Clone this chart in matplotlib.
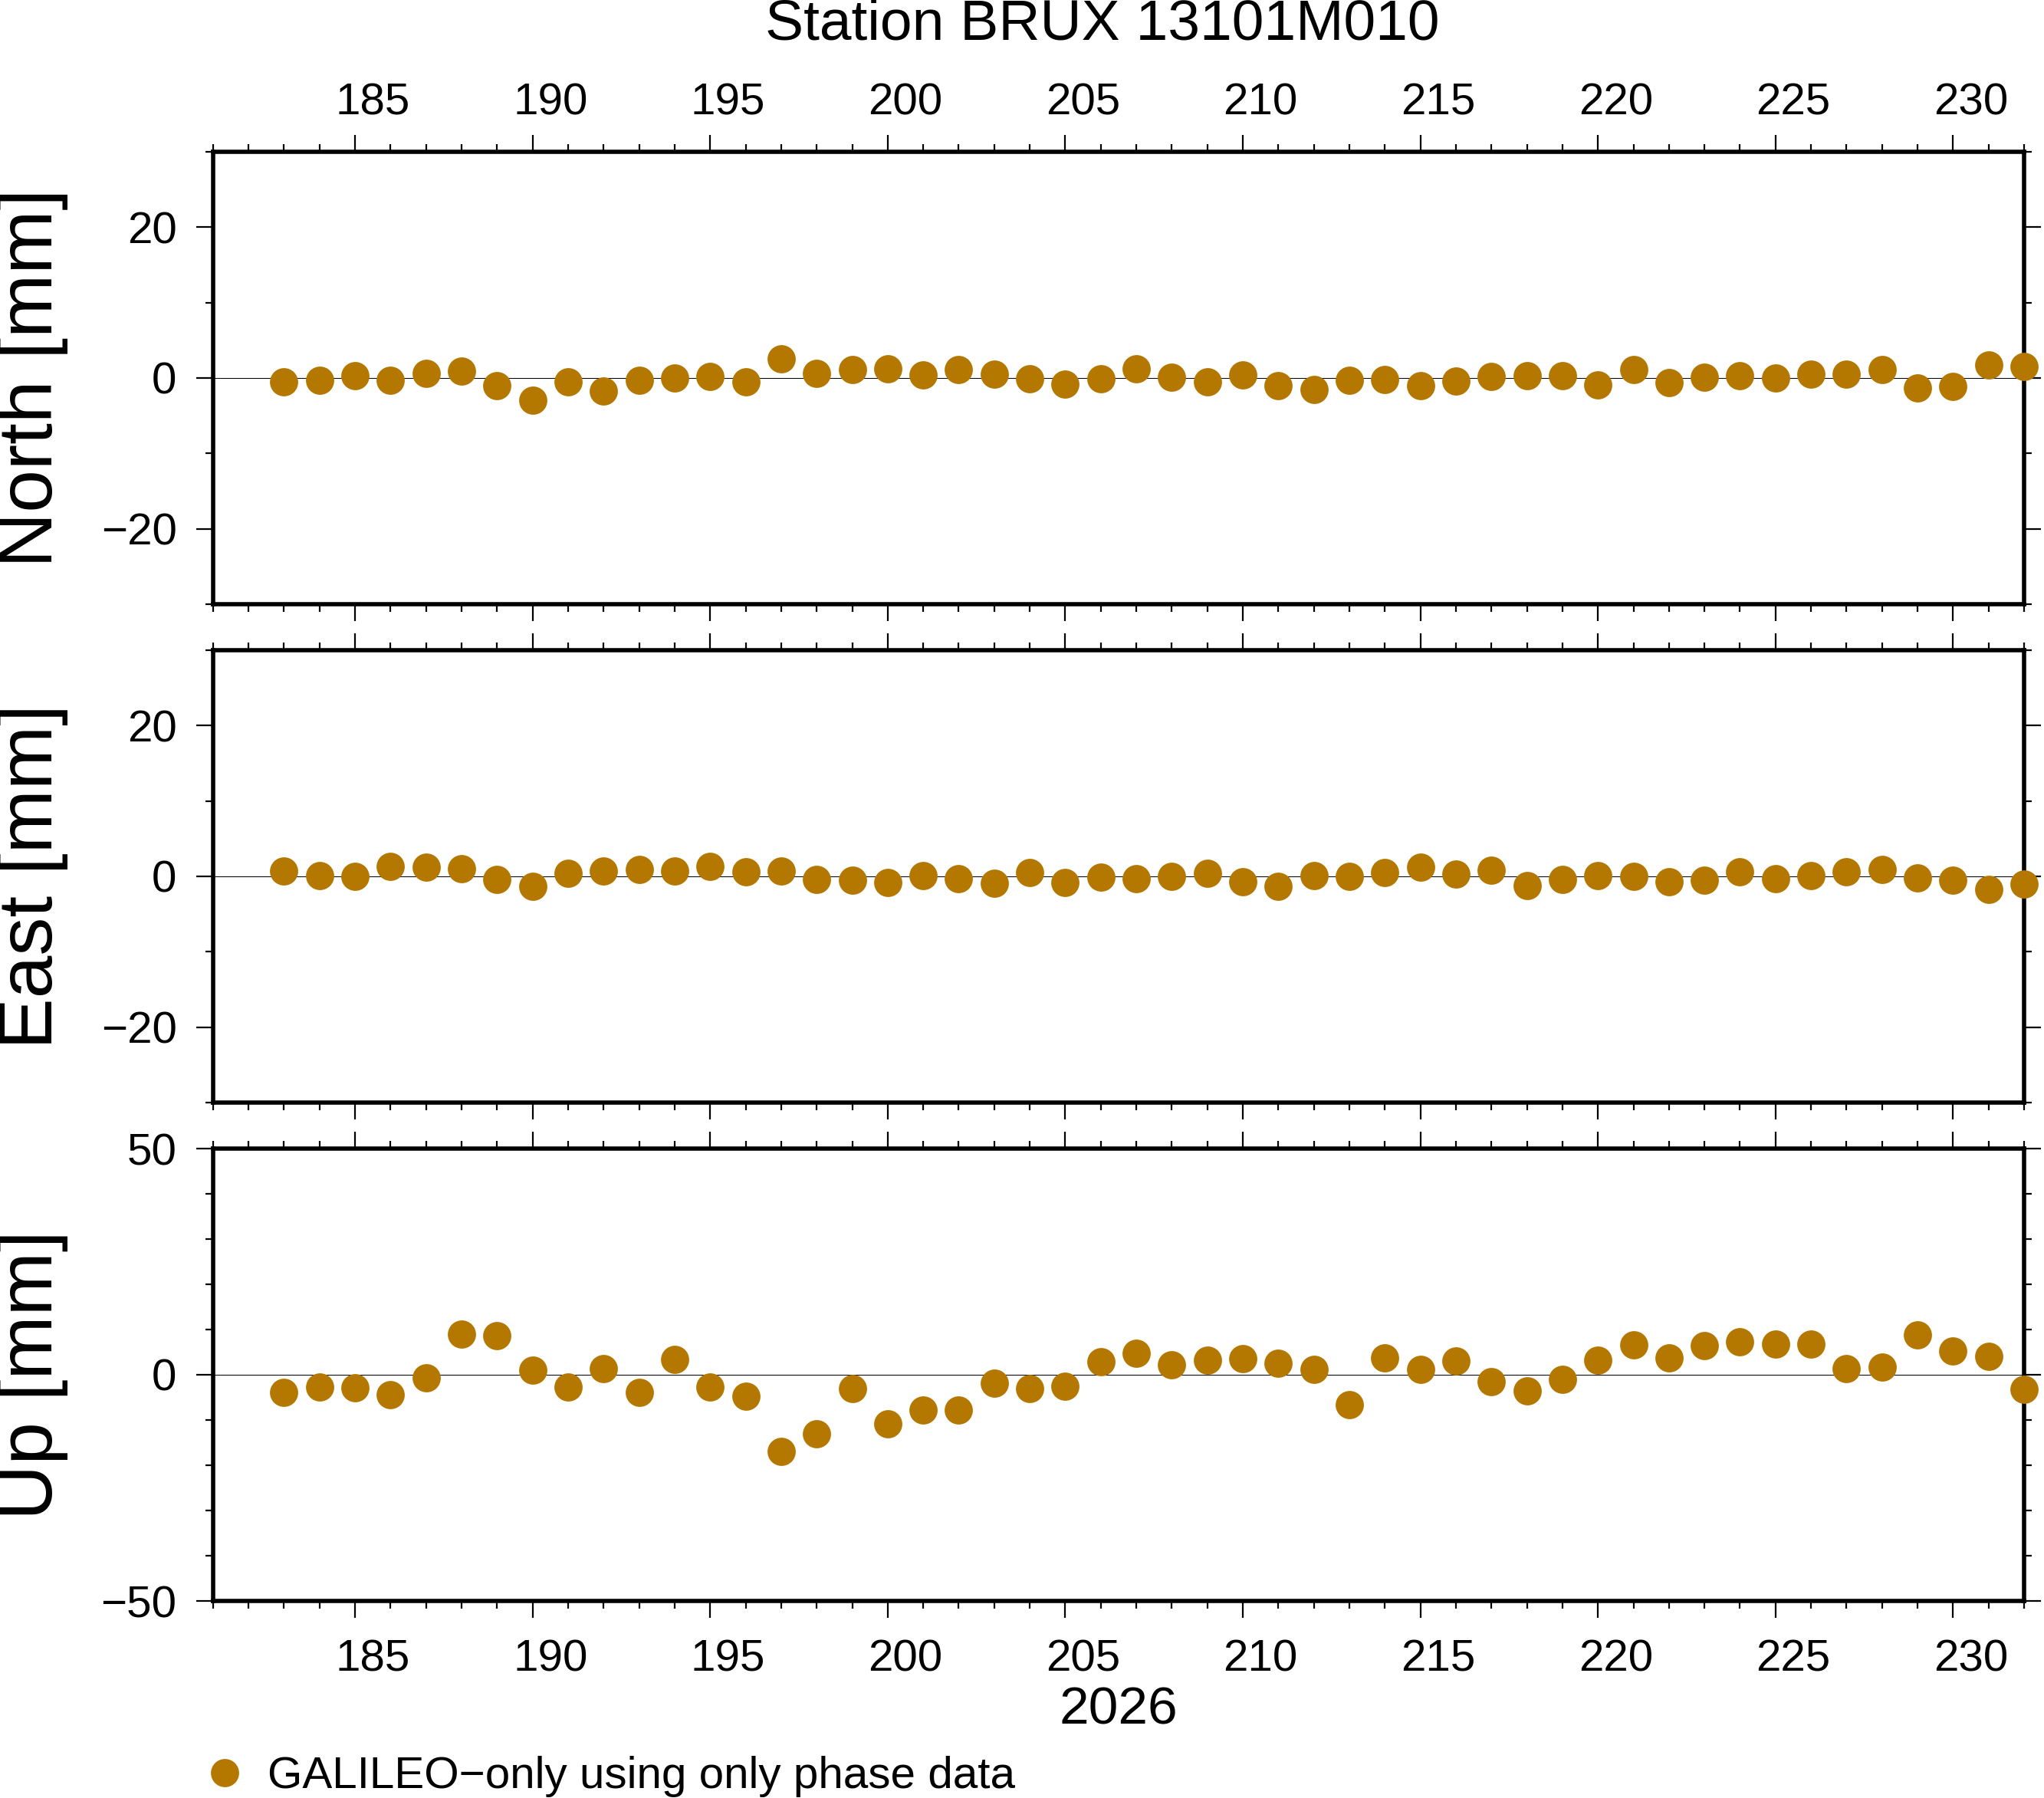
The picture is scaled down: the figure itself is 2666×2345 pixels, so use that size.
import matplotlib
matplotlib.use("Agg")
import matplotlib.pyplot as plt
from matplotlib.ticker import MultipleLocator, FixedLocator
from matplotlib.lines import Line2D
from matplotlib.transforms import ScaledTranslation

plt.rcParams['font.family'] = ['Liberation Sans', 'DejaVu Sans']

# ---------------- data ----------------
days = list(range(183, 233))
north = [-0.5, -0.34, 0.27, -0.34, 0.6, 0.9, -1.0, -2.9, -0.5, -1.75,
         -0.34, 0.0, 0.17, -0.5, 2.5, 0.6, 1.1, 1.2, 0.4, 1.1,
         0.5, -0.1, -0.85, -0.1,
         1.2, 0.1, -0.5, 0.4, -1.0, -1.5, -0.3, -0.2, -1.0, -0.4,
         0.2, 0.3, 0.3, -0.9, 1.1, -0.6, 0.1, 0.3, 0.0, 0.5,
         0.5, 1.1, -1.3, -1.1, 1.7, 1.5]
east = [0.7, 0.1, 0.0, 1.3, 1.2, 1.0, -0.4, -1.3, 0.4, 0.7,
        0.9, 0.7, 1.3, 0.6, 0.7, -0.4, -0.5, -0.8, 0.1, -0.3,
        -0.9, 0.5, -0.8, -0.1,
        -0.3, 0.0, 0.4, -0.7, -1.3, 0.1, 0.0, 0.5, 1.2, 0.3,
        0.8, -1.2, -0.4, 0.1, 0.0, -0.7, -0.5, 0.6, -0.3, 0.1,
        0.6, 0.9, -0.2, -0.5, -1.7, -1.0]
up = [-3.9, -2.7, -2.9, -4.4, -0.7, 9.0, 8.6, 1.0, -2.7, 1.4,
      -3.9, 3.4, -2.7, -4.7, -16.9, -13.1, -3.1, -10.8, -7.8, -7.8,
      -1.9, -3.1, -2.5, 2.9,
      4.7, 2.2, 3.2, 3.6, 2.5, 1.2, -6.6, 3.7, 1.2, 3.1,
      -1.5, -3.6, -1.0, 3.2, 6.6, 3.7, 6.4, 7.3, 6.8, 6.8,
      1.4, 1.7, 8.8, 5.3, 4.1, -3.2]

components = ["North [mm]", "East [mm]", "Up [mm]"]
series = [north, east, up]
ylims = [(-30, 30), (-30, 30), (-50, 50)]
ymajor = [[-20, 0, 20], [-20, 0, 20], [-50, 0, 50]]
xlim = (181, 232)
xmajor = list(range(185, 231, 5))
title = "Station BRUX 13101M010"
year_label = "2026"
legend_label = "GALILEO\u2212only using only phase data"
color = "#B47800"

# ---------------- figure ----------------
W, H = 2666, 2345
fig = plt.figure(figsize=(W / 100, H / 100), dpi=100)

left = 277.8 / W
width = (2640 - 277.8) / W
ph = 590 / H
bottoms = [1 - 788 / H, 1 - 1438 / H, 1 - 2088 / H]
px_per_day = (2640 - 277.8) / (xlim[1] - xlim[0])
label_shift = ScaledTranslation(0.5 * px_per_day / 100, 0, fig.dpi_scale_trans)

TICK_FS = 42
axes = []
for i, (name, vals, yl, ym) in enumerate(zip(components, series, ylims, ymajor)):
    ax = fig.add_axes([left, bottoms[i], width, ph])
    axes.append(ax)
    ax.axhline(0, color="black", lw=0.75, zorder=1)
    ax.plot(days, vals, linestyle="none", marker="o", markersize=26.5,
            color=color, markeredgewidth=0, clip_on=False, zorder=5)
    ax.set_xlim(*xlim)
    ax.set_ylim(*yl)
    ax.xaxis.set_major_locator(FixedLocator(xmajor))
    ax.xaxis.set_minor_locator(MultipleLocator(1))
    ax.yaxis.set_major_locator(FixedLocator(ym))
    ax.yaxis.set_minor_locator(MultipleLocator(10))
    for sp in ax.spines.values():
        sp.set_linewidth(4)
    ax.tick_params(axis="x", which="both", direction="out", top=True, bottom=True,
                   labelsize=TICK_FS, pad=(10 if i == 0 else 19.5))
    ax.tick_params(axis="y", which="both", direction="out", left=True, right=True,
                   labelsize=TICK_FS, pad=18)
    ax.tick_params(which="major", length=16, width=1.6)
    ax.tick_params(which="minor", length=7.5, width=1.6)
    ax.tick_params(axis="x", labeltop=(i == 0), labelbottom=(i == 2))
    # annotations sit in the middle of the day interval (GMT style)
    for tk in ax.xaxis.get_major_ticks():
        tk.label1.set_transform(tk.label1.get_transform() + label_shift)
        tk.label2.set_transform(tk.label2.get_transform() + label_shift)
    # component label centred on the panel
    fig.text(42 / W, bottoms[i] + ph / 2, name, rotation=90, ha="center",
             va="center", fontsize=72)

axes[2].set_xlabel(year_label, fontsize=50, labelpad=5)

fig.text(1438 / W, 1 - 32 / H, title, ha="center", va="center", fontsize=54)

# legend
handle = Line2D([], [], linestyle="none", marker="o", markersize=26.5,
                color=color, markeredgewidth=0)
fig.legend([handle], [legend_label], loc="center left",
           bbox_to_anchor=(270 / W, 1 - 2317 / H), frameon=False,
           fontsize=42, handlelength=0.8, handletextpad=0.55,
           borderpad=0, borderaxespad=0)

fig.savefig("out.png", dpi=100)
